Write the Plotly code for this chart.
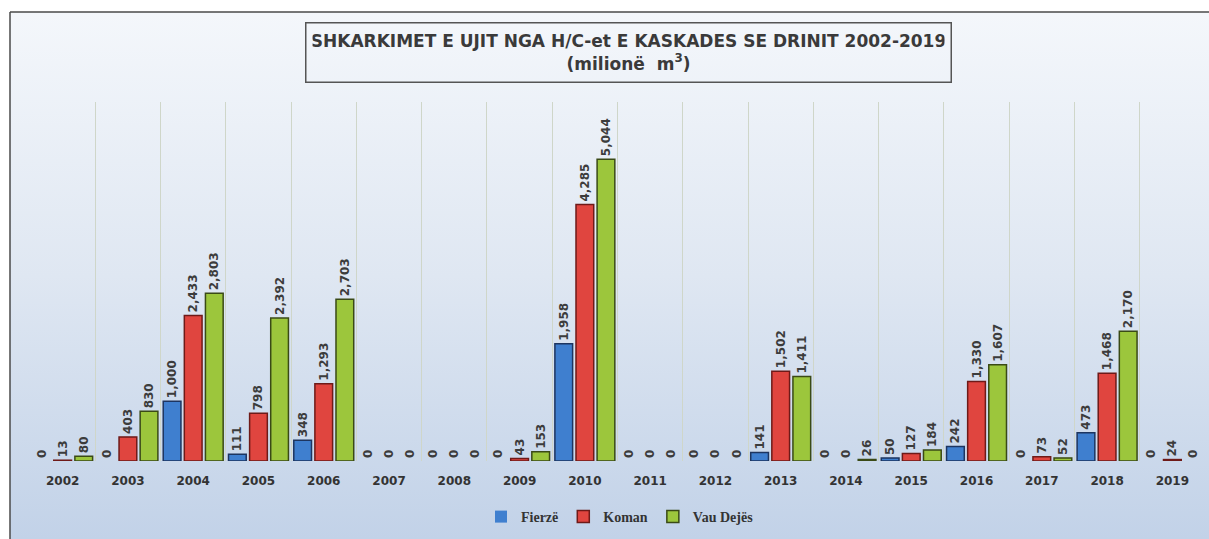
import base64
import plotly.graph_objects as go

years = ["2002", "2003", "2004", "2005", "2006", "2007", "2008", "2009", "2010",
         "2011", "2012", "2013", "2014", "2015", "2016", "2017", "2018", "2019"]
fierze = [0, 0, 1000, 111, 348, 0, 0, 0, 1958, 0, 0, 141, 0, 50, 242, 0, 473, 0]
koman = [13, 403, 2433, 798, 1293, 0, 0, 43, 4285, 0, 0, 1502, 0, 127, 1330, 73, 1468, 24]
vau_dejes = [80, 830, 2803, 2392, 2703, 0, 0, 153, 5044, 0, 0, 1411, 26, 184, 1607, 52, 2170, 0]

series = [
    ("Fierzë", fierze, "#3f7fcf", "#1d3560"),
    ("Koman", koman, "#e0453f", "#6e1a18"),
    ("Vau Dejës", vau_dejes, "#9cc63c", "#3a4a16"),
]

W, H = 1209, 539
L, R, T, B = 30, 4, 102, 78
pw = W - L - R
ph = H - T - B


def px_to_paper_x(x):
    return (x - L) / pw


def px_to_paper_y(y):
    return (H - B - y) / ph


label_font = dict(family="DejaVu Sans", size=12, color="#3c3c3c", weight="bold")

fig = go.Figure()
for name, vals, fill, edge in series:
    fig.add_trace(go.Bar(
        name=name, x=years, y=vals,
        marker=dict(color=fill, line=dict(color=edge, width=[0 if v == 0 else 1.5 for v in vals])),
        texttemplate="%{y:,}", textposition="outside", textangle=-90,
        constraintext="none", cliponaxis=False,
        textfont=label_font, outsidetextfont=label_font,
    ))

# gradient background (svg data uri)
svg = ('<svg xmlns="http://www.w3.org/2000/svg" width="100" height="100" preserveAspectRatio="none">'
       '<defs><linearGradient id="g" x1="0" y1="0" x2="0" y2="1">'
       '<stop offset="0" stop-color="#f4f7fb"/>'
       '<stop offset="0.5" stop-color="#dfe7f2"/>'
       '<stop offset="1" stop-color="#c2d2e8"/>'
       '</linearGradient></defs><rect width="100" height="100" fill="url(#g)"/></svg>')
src = "data:image/svg+xml;base64," + base64.b64encode(svg.encode()).decode()

x0 = px_to_paper_x(10)
x1 = px_to_paper_x(W)
y0 = px_to_paper_y(12)
y1 = px_to_paper_y(H)

fig.update_layout(
    width=W, height=H,
    margin=dict(l=L, r=R, t=T, b=B),
    paper_bgcolor="white",
    plot_bgcolor="rgba(0,0,0,0)",
    barmode="group", bargap=0.03, bargroupgap=0.16,
    images=[dict(source=src, xref="paper", yref="paper", x=x0, y=y0,
                 sizex=x1 - x0, sizey=y0 - y1, sizing="stretch",
                 xanchor="left", yanchor="top", layer="below")],
    shapes=[
        dict(type="line", xref="paper", yref="paper", x0=x0, x1=x1, y0=y0, y1=y0,
             line=dict(color="#4a4a4a", width=1.5)),
        dict(type="line", xref="paper", yref="paper", x0=x0, x1=x0, y0=y0, y1=y1,
             line=dict(color="#4a4a4a", width=1.5)),
    ],
    annotations=[dict(
        xref="paper", yref="paper", x=px_to_paper_x(628), y=px_to_paper_y(52),
        xanchor="center", yanchor="middle", showarrow=False,
        text="<b>SHKARKIMET E UJIT NGA H/C-et E KASKADES SE DRINIT 2002-2019</b><br><b>(milionë  m<sup>3</sup>)</b>",
        font=dict(family="DejaVu Sans", size=17, color="#3a3a3a"),
        width=632, height=46, align="center", valign="middle",
        bordercolor="#555555", borderwidth=1.5, borderpad=6, bgcolor="rgba(0,0,0,0)",
    )],
    legend=dict(orientation="h", x=px_to_paper_x(620), y=px_to_paper_y(517),
                xanchor="center", yanchor="middle",
                font=dict(family="Liberation Serif", size=14, color="#333333", weight="bold"),
                bgcolor="rgba(0,0,0,0)", traceorder="normal", itemwidth=30),
    showlegend=True,
    xaxis=dict(type="category", tickson="boundaries", showgrid=True,
               gridcolor="#cfd6c9", gridwidth=1, ticks="", showline=False,
               tickfont=dict(family="DejaVu Sans", size=12, color="#333333", weight="bold"),
               ticklabelstandoff=11, zeroline=False),
    yaxis=dict(range=[0, 6000], visible=False, showgrid=False, zeroline=False),
    font=dict(family="DejaVu Sans"),
)

fig.write_html("out.html", config={"displayModeBar": False},
               post_script="document.body.style.margin='0px';")
